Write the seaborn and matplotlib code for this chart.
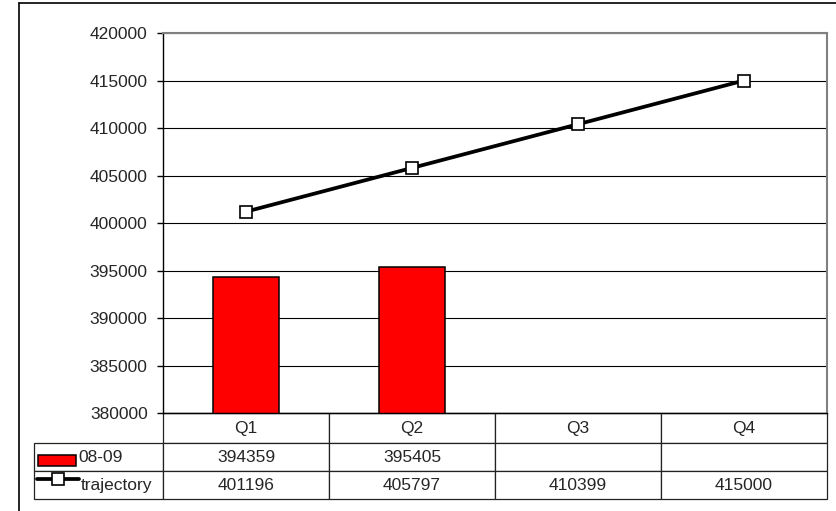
import numpy as np
import pandas as pd
import matplotlib
matplotlib.use("Agg")
import matplotlib.pyplot as plt
import seaborn as sns
from matplotlib.patches import Rectangle
from matplotlib.lines import Line2D

quarters = ["Q1", "Q2", "Q3", "Q4"]
actual_0809 = [394359, 395405, np.nan, np.nan]
trajectory = [401196, 405797, 410399, 415000]
series_names = ["08-09", "trajectory"]
y_ticks = [380000, 385000, 390000, 395000, 400000, 405000, 410000, 415000, 420000]

sns.set_style("white")
plt.rcParams["font.family"] = ["Liberation Sans", "DejaVu Sans"]
plt.rcParams["font.size"] = 12.5

W, H = 836, 511
fig = plt.figure(figsize=(W / 100, H / 100), dpi=100)

# plot area in pixel terms
px0, px1, py0, py1 = 163, 827, 33, 413
ax = fig.add_axes([px0 / W, 1 - py1 / H, (px1 - px0) / W, (py1 - py0) / H])

df = pd.DataFrame({"quarter": quarters, "actual": actual_0809, "traj": trajectory})

sns.barplot(data=df, x="quarter", y="actual", order=quarters, width=0.4,
            color="#ff0000", edgecolor="black", linewidth=1.1, saturation=1, ax=ax)
sns.pointplot(data=df, x="quarter", y="traj", order=quarters, color="black",
              markers="s", linestyles="-", ax=ax)
for ln in ax.lines:
    ln.set_linewidth(2.7)
    ln.set_markersize(8.3)
    ln.set_markerfacecolor("white")
    ln.set_markeredgecolor("black")
    ln.set_markeredgewidth(1.2)
    ln.set_zorder(5)

ax.set_ylim(380000, 420000)
ax.set_yticks(y_ticks)
ax.set_yticklabels([str(v) for v in y_ticks])
ax.set_xlim(-0.5, 3.5)
ax.set_xticks([])
ax.set_xlabel("")
ax.set_ylabel("")
ax.grid(axis="y", color="black", linewidth=0.8)
ax.set_axisbelow(True)
ax.tick_params(axis="y", direction="out", length=4, width=1, pad=7, color="black", left=True)
for side in ["top", "right"]:
    ax.spines[side].set_color("#808080")
    ax.spines[side].set_linewidth(1.5)
for side in ["left", "bottom"]:
    ax.spines[side].set_color("black")
    ax.spines[side].set_linewidth(1)


def fmt(v):
    return "" if pd.isna(v) else str(int(v))


# data table under the plot
cell_text = [[""] + quarters,
             [series_names[0]] + [fmt(v) for v in actual_0809],
             [series_names[1]] + [fmt(v) for v in trajectory]]
tx0, ty1 = 34, 499
bbox = [(tx0 - px0) / (px1 - px0), -(ty1 - py1) / (py1 - py0),
        (px1 - tx0) / (px1 - px0), (ty1 - py1) / (py1 - py0)]
tbl = ax.table(cellText=cell_text, cellLoc="center",
               colWidths=[129, 166, 166, 166, 166], bbox=bbox)
tbl.auto_set_font_size(False)
tbl.set_fontsize(12.5)
row_h = [30, 28, 28]
for (r, c), cell in tbl.get_celld().items():
    cell.set_edgecolor("#222222")
    cell.set_linewidth(0.9)
    cell.set_height(row_h[r])
    if r == 0 and c == 0:
        cell.visible_edges = ""
    if r > 0 and c == 0:
        cell._loc = "left"
        cell.get_text().set_ha("left")
tbl.get_celld()[(1, 0)].PAD = 44 / 129
tbl.get_celld()[(2, 0)].PAD = 47 / 129


def to_ax(x, y):
    return (x - px0) / (px1 - px0), (py1 - y) / (py1 - py0)


# legend keys inside the table
rx, ry = to_ax(38, 466)
rx2, ry2 = to_ax(76, 455)
ax.add_patch(Rectangle((rx, ry), rx2 - rx, ry2 - ry, transform=ax.transAxes,
                       facecolor="#ff0000", edgecolor="black", linewidth=1.1, clip_on=False))
lx0, ly = to_ax(37, 479)
lx1, _ = to_ax(79, 479)
mx, _ = to_ax(58, 479)
ax.add_line(Line2D([lx0, lx1], [ly, ly], transform=ax.transAxes, color="black",
                   linewidth=2.7, clip_on=False))
ax.add_line(Line2D([mx], [ly], transform=ax.transAxes, marker="s", markersize=8.3,
                   markerfacecolor="white", markeredgecolor="black", markeredgewidth=1.2,
                   linestyle="none", clip_on=False))

# outer chart frame
fig.add_artist(Line2D([19 / W, 19 / W], [0, 1 - 3 / H], color="black", linewidth=1.2))
fig.add_artist(Line2D([19 / W, 1], [1 - 3 / H, 1 - 3 / H], color="black", linewidth=1.2))

fig.savefig("out.png", dpi=100)
